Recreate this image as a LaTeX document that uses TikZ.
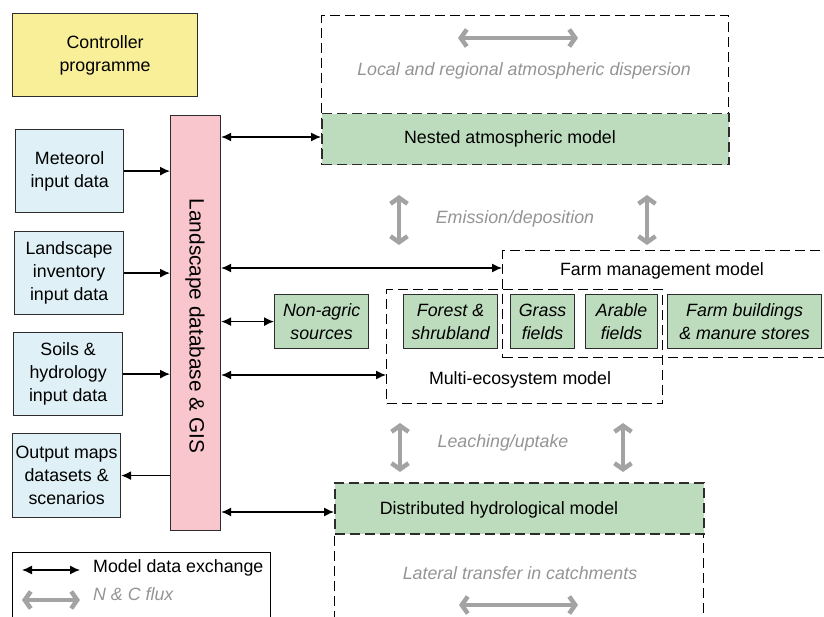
\documentclass[tikz,border=0pt]{standalone}
\usepackage{fontspec}
\setmainfont{Liberation Sans}
\usetikzlibrary{arrows.meta,calc}
\definecolor{boxgreen}{RGB}{189,220,189}
\definecolor{boxpink}{RGB}{248,198,204}
\definecolor{boxblue}{RGB}{223,240,246}
\definecolor{boxyellow}{RGB}{249,239,152}
\definecolor{fluxcol}{RGB}{163,163,163}
\definecolor{fluxtext}{RGB}{148,148,148}
\definecolor{edgecol}{RGB}{45,45,45}
\begin{document}
\begin{tikzpicture}[x=1pt,y=-1pt,
  every node/.style={font=\fontsize{17.8}{23}\selectfont, inner sep=0pt, align=center},
  solidbox/.style={draw=edgecol, line width=1.2pt, anchor=north west},
  inbox/.style={solidbox, fill=boxblue},
  greenbox/.style={solidbox, fill=boxgreen, font=\fontsize{17.8}{23}\selectfont\itshape},
  dashbox/.style={draw=black, line width=1.1pt, dash pattern=on 10pt off 5pt, anchor=north west},
  modelbox/.style={draw=edgecol, line width=1.5pt, dash pattern=on 10pt off 5pt, fill=boxgreen, anchor=north west},
  fluxlabel/.style={text=fluxtext, font=\fontsize{17.8}{23}\selectfont\itshape},
  dex/.style={line width=1.3pt, {Latex[length=10pt,width=9pt]}-{Latex[length=10pt,width=9pt]}},
  dexone/.style={line width=1.3pt, -{Latex[length=10pt,width=9pt]}},
  fluxarrow/.style={draw=fluxcol, line width=4.5pt, {Straight Barb[length=6pt,width=17pt]}-{Straight Barb[length=6pt,width=17pt]}}
]
\useasboundingbox (0,0) rectangle (824,617);

% controller
\node[solidbox, fill=boxyellow, minimum width=185pt, minimum height=83pt] (ctrl) at (12,13) {Controller\\programme};

% input / output boxes
\node[inbox, minimum width=108pt, minimum height=83pt] (met) at (15,129) {Meteorol\\input data};
\node[inbox, minimum width=109pt, minimum height=83pt] (land) at (14,231) {Landscape\\inventory\\input data};
\node[inbox, minimum width=109pt, minimum height=83pt] (soil) at (13,332) {Soils \&\\hydrology\\input data};
\node[inbox, minimum width=108pt, minimum height=84pt] (outp) at (12,433) {Output maps\\datasets \&\\scenarios};

% landscape database
\node[solidbox, fill=boxpink, minimum width=50pt, minimum height=415pt] (gis) at (170,115) {};
\node[rotate=-90, font=\fontsize{20.8}{24}\selectfont] (gistext) at (195,326) {Landscape database \& GIS};

% atmospheric
\node[dashbox, minimum width=407pt, minimum height=149pt] (atmo) at (321,15) {};
\node[modelbox, minimum width=407pt, minimum height=51pt] (nested) at (321,113) {};
\node (nestedtext) at (510,139) {Nested atmospheric model};
\node[fluxlabel] (atmotext) at (524,71) {Local and regional atmospheric dispersion};
\coordinate (da) at (458,38);
\coordinate (db) at (578,38);
\draw[fluxarrow] (da) -- (db);

% emission / deposition
\coordinate (e1a) at (399,195);
\coordinate (e1b) at (399,245);
\coordinate (e2a) at (647,195);
\coordinate (e2b) at (647,245);
\draw[fluxarrow] (e1a) -- (e1b);
\draw[fluxarrow] (e2a) -- (e2b);
\node[fluxlabel] (emtext) at (515,219) {Emission/deposition};

% farm management & multi-ecosystem
\node[dashbox, minimum width=330pt, minimum height=107pt] (farm) at (502,250) {};
\node (farmtext) at (662,271) {Farm management model};
\node[dashbox, minimum width=276pt, minimum height=114pt] (multi) at (386,289) {};
\node (multitext) at (520,380) {Multi-ecosystem model};

\node[greenbox, minimum width=94pt, minimum height=54pt] (nonagric) at (274,294) {Non-agric\\sources};
\node[greenbox, minimum width=94pt, minimum height=54pt] (forest) at (403,294) {Forest \&\\shrubland};
\node[greenbox, minimum width=64pt, minimum height=54pt] (grass) at (510,294) {Grass\\fields};
\node[greenbox, minimum width=72pt, minimum height=54pt] (arable) at (585,294) {Arable\\fields};
\node[greenbox, minimum width=154pt, minimum height=54pt] (buildings) at (667,294) {Farm buildings\\\& manure stores};

% leaching / uptake
\coordinate (l1a) at (400,423);
\coordinate (l1b) at (400,472);
\coordinate (l2a) at (623,423);
\coordinate (l2b) at (623,472);
\draw[fluxarrow] (l1a) -- (l1b);
\draw[fluxarrow] (l2a) -- (l2b);
\node[fluxlabel] (leachtext) at (503,443) {Leaching/uptake};

% hydrological
\node[dashbox, minimum width=369pt, minimum height=100pt] (lateral) at (334,533) {};
\node[modelbox, minimum width=369pt, minimum height=51pt] (hydro) at (334,482) {};
\node (hydrotext) at (499,510) {Distributed hydrological model};
\node[fluxlabel] (lattext) at (520,573) {Lateral transfer in catchments};
\coordinate (la) at (459,605);
\coordinate (lb) at (578,605);
\draw[fluxarrow] (la) -- (lb);

% data exchange arrows
\coordinate (yfarm) at (0,268);
\coordinate (ymulti) at (0,375);
\coordinate (yhydro) at (0,512);
\coordinate (ynested) at (0,137);
\draw[dex] (gis.east |- ynested) -- (nested.west |- ynested);
\draw[dex] (gis.east |- yfarm) -- (farm.west |- yfarm);
\draw[dex] (gis.east |- nonagric.west) -- (nonagric.west);
\draw[dex] (gis.east |- ymulti) -- (multi.west |- ymulti);
\draw[dex] (gis.east |- yhydro) -- (hydro.west |- yhydro);
\draw[dexone] (met.east) -- (met.east -| gis.west);
\draw[dexone] (land.east) -- (land.east -| gis.west);
\draw[dexone] (soil.east) -- (soil.east -| gis.west);
\draw[dexone] (outp.east -| gis.west) -- (outp.east);

% legend
\node[solidbox, draw=black, minimum width=258pt, minimum height=90pt] (legend) at (12,552) {};
\coordinate (k1a) at (22,570);
\coordinate (k1b) at (80,570);
\coordinate (k2a) at (22,600);
\coordinate (k2b) at (80,600);
\draw[dex] (k1a) -- (k1b);
\draw[fluxarrow] (k2a) -- (k2b);
\node[anchor=west] (k1text) at (93,568) {Model data exchange};
\node[anchor=west, fluxlabel] (k2text) at (93,594) {N \& C flux};
\end{tikzpicture}
\end{document}
